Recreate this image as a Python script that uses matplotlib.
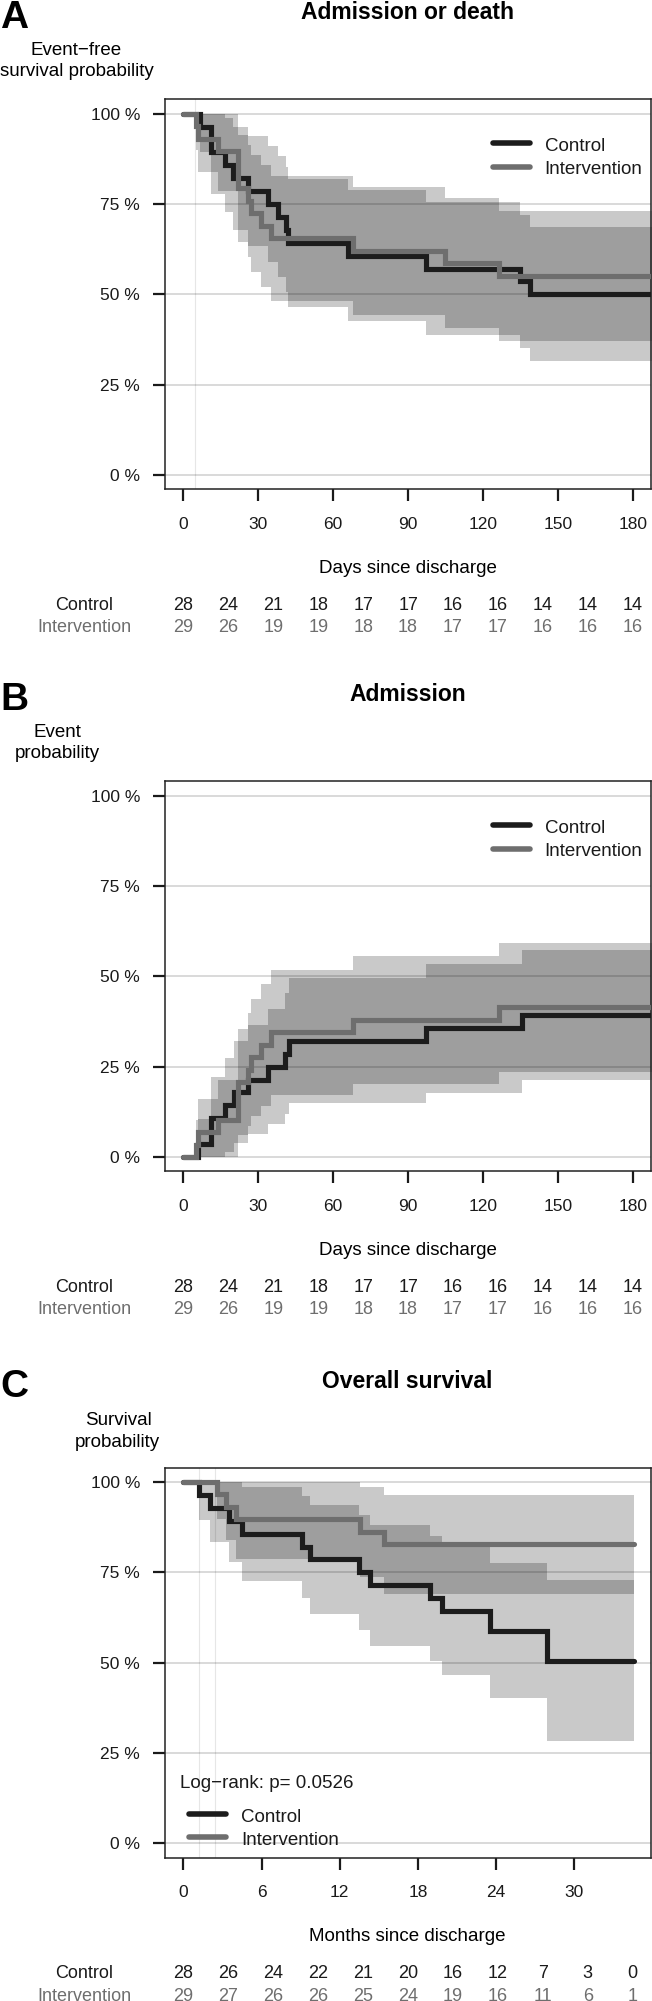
import numpy as np
import matplotlib
matplotlib.use("Agg")
import matplotlib.pyplot as plt
import matplotlib.transforms as mtransforms
from matplotlib.lines import Line2D

plt.rcParams["font.family"] = ["Liberation Sans", "DejaVu Sans"]

# ---------------------------------------------------------------------------
# Data
# ---------------------------------------------------------------------------
# A: admission or death, days since discharge (Kaplan-Meier + 95% CI)
a_ctrl_t  = [0, 6.5, 11.1, 16.5, 19.8, 25.8, 33.8, 37.8, 41.1, 41.8, 66, 97, 135, 139]
a_ctrl_s  = [1, 0.964, 0.893, 0.857, 0.821, 0.786, 0.750, 0.714, 0.679, 0.643, 0.607, 0.571, 0.536, 0.500]
a_ctrl_lo = [1, 0.895, 0.778, 0.727, 0.679, 0.634, 0.590, 0.547, 0.506, 0.465, 0.426, 0.388, 0.351, 0.315]
a_ctrl_hi = [1, 1.0, 1.0, 0.987, 0.963, 0.938, 0.910, 0.882, 0.852, 0.820, 0.788, 0.755, 0.720, 0.685]

a_int_t  = [0, 5.2, 5.8, 13.8, 21.8, 25.8, 27.1, 31.1, 35.1, 68, 104.6, 126.3]
a_int_s  = [1, 0.966, 0.931, 0.897, 0.793, 0.759, 0.724, 0.690, 0.655, 0.621, 0.586, 0.552]
a_int_lo = [1, 0.899, 0.839, 0.786, 0.646, 0.603, 0.561, 0.521, 0.482, 0.444, 0.407, 0.371]
a_int_hi = [1, 1.0, 1.0, 1.0, 0.940, 0.914, 0.887, 0.858, 0.828, 0.797, 0.766, 0.732]

# B: admission, cumulative event probability
b_ctrl_t  = [0, 6, 11.1, 16.5, 20.4, 25.8, 33.8, 40.5, 42.2, 97, 135.5]
b_ctrl_p  = [0, 0.036, 0.107, 0.143, 0.179, 0.214, 0.250, 0.286, 0.321, 0.357, 0.393]
b_ctrl_lo = [0, 0.0, 0.0, 0.013, 0.037, 0.062, 0.090, 0.118, 0.148, 0.178, 0.212]
b_ctrl_hi = [0, 0.105, 0.222, 0.273, 0.321, 0.366, 0.410, 0.453, 0.494, 0.533, 0.574]

b_int_t  = [0, 5.2, 5.8, 13.8, 21.8, 25.8, 27.1, 31.1, 35.1, 68, 126.3]
b_int_p  = [0, 0.034, 0.069, 0.103, 0.207, 0.241, 0.276, 0.310, 0.345, 0.379, 0.414]
b_int_lo = [0, 0.0, 0.0, 0.0, 0.060, 0.086, 0.113, 0.142, 0.172, 0.203, 0.235]
b_int_hi = [0, 0.101, 0.161, 0.214, 0.354, 0.397, 0.438, 0.479, 0.518, 0.556, 0.593]

DAYS_END = 190

# C: overall survival, months since discharge
c_ctrl_t  = [0, 1.18, 2.07, 3.5, 4.5, 9.1, 9.75, 13.46, 14.35, 18.96, 19.85, 23.56, 27.9]
c_ctrl_s  = [1, 0.964, 0.929, 0.893, 0.857, 0.821, 0.786, 0.750, 0.714, 0.679, 0.643, 0.589, 0.505]
c_ctrl_lo = [1, 0.895, 0.834, 0.778, 0.727, 0.679, 0.634, 0.590, 0.547, 0.506, 0.465, 0.402, 0.283]
c_ctrl_hi = [1, 1.0, 1.0, 1.0, 0.987, 0.963, 0.938, 0.910, 0.882, 0.852, 0.820, 0.777, 0.728]

c_int_t  = [0, 2.6, 3.3, 4.0, 13.58, 15.37]
c_int_s  = [1, 0.966, 0.931, 0.897, 0.862, 0.828]
c_int_lo = [1, 0.899, 0.839, 0.786, 0.737, 0.690]
c_int_hi = [1, 1.0, 1.0, 1.0, 0.987, 0.965]

MONTHS_END = 34.56

# numbers at risk
risk_days_t   = [0, 18, 36, 54, 72, 90, 108, 126, 144, 162, 180]
risk_days_ctl = [28, 24, 21, 18, 17, 17, 16, 16, 14, 14, 14]
risk_days_int = [29, 26, 19, 19, 18, 18, 17, 17, 16, 16, 16]

risk_mon_t   = [0, 3.45, 6.9, 10.35, 13.8, 17.25, 20.7, 24.15, 27.6, 31.05, 34.5]
risk_mon_ctl = [28, 26, 24, 22, 21, 20, 16, 12, 7, 3, 0]
risk_mon_int = [29, 27, 26, 26, 25, 24, 19, 16, 11, 6, 1]

y_ticks = [0, 0.25, 0.5, 0.75, 1.0]
y_ticklabels = ["0 %", "25 %", "50 %", "75 %", "100 %"]
day_ticks = [0, 30, 60, 90, 120, 150, 180]
month_ticks = [0, 6, 12, 18, 24, 30]

# ---------------------------------------------------------------------------
# Styling
# ---------------------------------------------------------------------------
W, H, DPI = 652, 2001, 100
CTRL_COL = "#1c1c1c"
INT_COL = "#6e6e6e"
BAND_ALPHA = 0.21
LW = 3.7
FS_LAB = 13.5
FS_TICK = 12.5
FS_RISK = 13

fig = plt.figure(figsize=(W / DPI, H / DPI), dpi=DPI)


def fx(x):
    return x / W


def fy(y):
    return 1 - y / H


PANEL_OFF = [0, 682.0, 1368.4]


def make_axes(off):
    left, right, top, bottom = 165.5, 650.7, 99.3 + off, 489.3 + off
    ax = fig.add_axes([fx(left), fy(bottom), (right - left) / W, (bottom - top) / H])
    for sp in ax.spines.values():
        sp.set_linewidth(1.1)
        sp.set_color("#222222")
    ax.set_ylim(-0.04, 1.04)
    ax.set_yticks(y_ticks)
    ax.set_yticklabels(y_ticklabels)
    ax.tick_params(axis="both", direction="out", length=8.6, width=1.6,
                   color="#1a1a1a", labelsize=FS_TICK, labelcolor="#1a1a1a")
    ax.tick_params(axis="x", pad=11.0)
    ax.tick_params(axis="y", pad=9.6)
    for yv in y_ticks:
        ax.axhline(yv, color="black", alpha=0.15, lw=1.4, zorder=2)
    return ax


def draw_band(ax, t, lo, hi, t_end):
    tt = list(t) + [t_end]
    ax.fill_between(tt, list(lo) + [lo[-1]], list(hi) + [hi[-1]], step="post",
                    color="black", alpha=BAND_ALPHA, lw=0, zorder=1)


def draw_curve(ax, t, s, t_end, color):
    ax.step(list(t) + [t_end], list(s) + [s[-1]], where="post", color=color,
            lw=LW, solid_capstyle="round", solid_joinstyle="miter", zorder=3)


def key(x0, y, label, color, size=FS_LAB):
    fig.add_artist(Line2D([fx(x0), fx(x0 + 37)], [fy(y), fy(y)], color=color,
                          lw=LW + 0.3, solid_capstyle="round"))
    fig.text(fx(x0 + 52), fy(y + 7.5), label, ha="left", va="baseline",
             size=size, color="#1a1a1a")


def risk_table(ax, off, xs, ctl, itv):
    tr = mtransforms.blended_transform_factory(ax.transData, fig.transFigure)
    for yb, lab, vals, col in [(610.0, "Control", ctl, "#1a1a1a"),
                               (632.5, "Intervention", itv, INT_COL)]:
        fig.text(fx(84), fy(yb + off), lab, ha="center", va="baseline",
                 size=FS_RISK, color=col)
        for xv, n in zip(xs, vals):
            ax.text(xv, fy(yb + off), str(n), transform=tr, ha="center",
                    va="baseline", size=FS_RISK, color=col)


def panel_text(off, letter, title, ylab_lines, xlab):
    fig.text(fx(0), fy(28.3 + off), letter, ha="left", va="baseline",
             size=28, weight="bold")
    fig.text(fx(407.5), fy(19.3 + off), title, ha="center", va="baseline",
             size=16.5, weight="bold")
    for (xc, yb, txt) in ylab_lines:
        fig.text(fx(xc), fy(yb), txt, ha="center", va="baseline", size=FS_LAB)
    fig.text(fx(407.5), fy(572.7 + off), xlab, ha="center", va="baseline",
             size=FS_LAB)


# ---------------------------------------------------------------------------
# A. Admission or death
# ---------------------------------------------------------------------------
off = PANEL_OFF[0]
ax = make_axes(off)
ax.set_xlim(-7.2, 187.2)
ax.set_xticks(day_ticks)
ax.axvline(4.5, color="#e6e6e6", lw=0.8, zorder=0)
draw_band(ax, a_ctrl_t, a_ctrl_lo, a_ctrl_hi, DAYS_END)
draw_band(ax, a_int_t, a_int_lo, a_int_hi, DAYS_END)
draw_curve(ax, a_ctrl_t, a_ctrl_s, DAYS_END, CTRL_COL)
draw_curve(ax, a_int_t, a_int_s, DAYS_END, INT_COL)
key(492.7, 143.3 + off, "Control", CTRL_COL)
key(492.7, 166.7 + off, "Intervention", INT_COL)
panel_text(off, "A", "Admission or death",
           [(76.5, 55.3, "Event\u2212free"), (76.5, 76.3, "survival probability")],
           "Days since discharge")
risk_table(ax, off, risk_days_t, risk_days_ctl, risk_days_int)

# ---------------------------------------------------------------------------
# B. Admission
# ---------------------------------------------------------------------------
off = PANEL_OFF[1]
ax = make_axes(off)
ax.set_xlim(-7.2, 187.2)
ax.set_xticks(day_ticks)
draw_band(ax, b_ctrl_t, b_ctrl_lo, b_ctrl_hi, DAYS_END)
draw_band(ax, b_int_t, b_int_lo, b_int_hi, DAYS_END)
draw_curve(ax, b_ctrl_t, b_ctrl_p, DAYS_END, CTRL_COL)
draw_curve(ax, b_int_t, b_int_p, DAYS_END, INT_COL)
key(492.7, 143.3 + off, "Control", CTRL_COL)
key(492.7, 166.7 + off, "Intervention", INT_COL)
panel_text(off, "B", "Admission",
           [(57.5, 737.3, "Event"), (57.5, 758.0, "probability")],
           "Days since discharge")
risk_table(ax, off, risk_days_t, risk_days_ctl, risk_days_int)

# ---------------------------------------------------------------------------
# C. Overall survival
# ---------------------------------------------------------------------------
off = PANEL_OFF[2]
ax = make_axes(off)
ax.set_xlim(-1.38, 35.88)
ax.set_xticks(month_ticks)
ax.axvline(1.18, color="#e6e6e6", lw=0.8, zorder=0)
ax.axvline(2.45, color="#e6e6e6", lw=0.8, zorder=0)
draw_band(ax, c_ctrl_t, c_ctrl_lo, c_ctrl_hi, MONTHS_END)
draw_band(ax, c_int_t, c_int_lo, c_int_hi, MONTHS_END)
draw_curve(ax, c_ctrl_t, c_ctrl_s, MONTHS_END, CTRL_COL)
draw_curve(ax, c_int_t, c_int_s, MONTHS_END, INT_COL)
fig.text(fx(179.6), fy(1788.3), "Log\u2212rank: p= 0.0526", ha="left",
         va="baseline", size=FS_LAB, color="#1a1a1a")
key(189, 1814.0, "Control", CTRL_COL)
key(189, 1837.3, "Intervention", INT_COL)
panel_text(off, "C", "Overall survival",
           [(118, 1425.0, "Survival"), (117.5, 1446.5, "probability")],
           "Months since discharge")
risk_table(ax, off, risk_mon_t, risk_mon_ctl, risk_mon_int)

fig.savefig("out.png", dpi=DPI)
